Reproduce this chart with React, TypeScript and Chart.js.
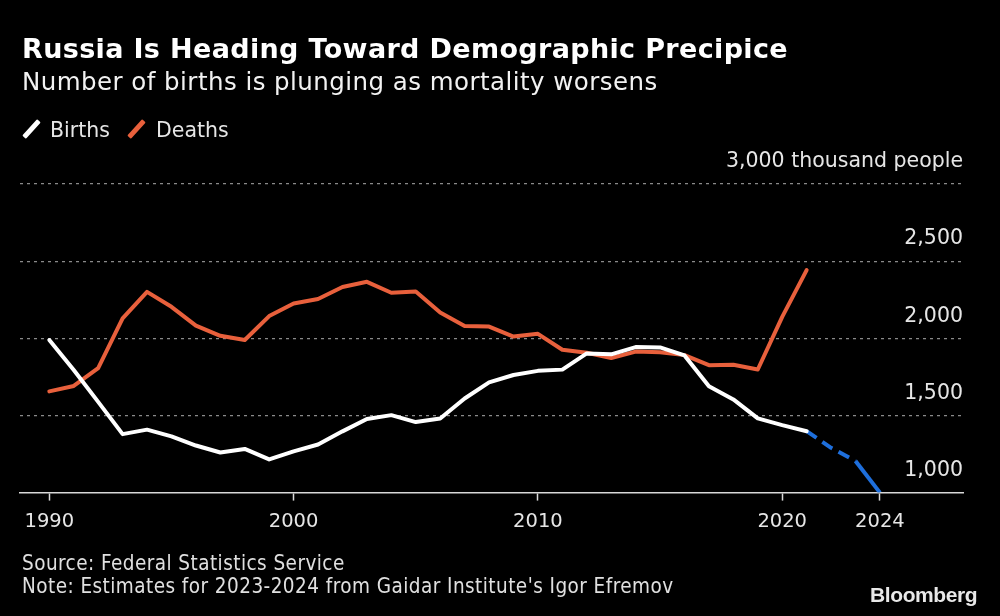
import React, { useEffect, useRef } from 'react';
import { Chart, registerables } from 'chart.js';

Chart.register(...registerables);

// Data (thousand people)
const years = [
  1990, 1991, 1992, 1993, 1994, 1995, 1996, 1997, 1998, 1999,
  2000, 2001, 2002, 2003, 2004, 2005, 2006, 2007, 2008, 2009,
  2010, 2011, 2012, 2013, 2014, 2015, 2016, 2017, 2018, 2019,
  2020, 2021,
];
const births = [
  1989, 1795, 1588, 1379, 1408, 1364, 1305, 1260, 1283, 1215,
  1267, 1312, 1397, 1477, 1502, 1457, 1480, 1610, 1714, 1762,
  1789, 1797, 1902, 1896, 1943, 1941, 1889, 1690, 1604, 1481,
  1437, 1398,
];
const deaths = [
  1656, 1691, 1807, 2129, 2301, 2204, 2082, 2016, 1989, 2144,
  2225, 2255, 2332, 2366, 2295, 2304, 2167, 2080, 2076, 2011,
  2029, 1926, 1906, 1872, 1914, 1909, 1891, 1826, 1829, 1798,
  2139, 2442,
];
const estimateYears = [2021, 2022, 2023, 2024];
const estimateBirths = [1398, 1290, 1205, 1000];

const xTickValues = [1990, 2000, 2010, 2020, 2024];
const yTickValues = [1000, 1500, 2000, 2500, 3000];
const yUnitLabel = '3,000 thousand people';

const WHITE = '#ffffff';
const ORANGE = '#e8603c';
const BLUE = '#1e6fdc';

export default function App() {
  const ref = useRef<HTMLCanvasElement>(null);

  useEffect(() => {
    document.body.style.margin = '0';
    document.body.style.background = '#000';
    const canvas = ref.current!;
    const chart = new Chart(canvas, {
      type: 'line',
      data: {
        datasets: [
          {
            label: 'Births',
            data: years.map((y, i) => ({ x: y, y: births[i] })),
            borderColor: WHITE,
            borderWidth: 4,
            pointRadius: 0,
            tension: 0,
            borderJoinStyle: 'round',
            borderCapStyle: 'round',
          },
          {
            label: 'Estimate',
            data: estimateYears.map((y, i) => ({ x: y, y: estimateBirths[i] })),
            borderColor: BLUE,
            borderWidth: 4,
            pointRadius: 0,
            tension: 0,
            borderJoinStyle: 'round',
            segment: {
              borderDash: (ctx: any) => (ctx.p1DataIndex <= 2 ? [12, 7] : []),
            },
          },
          {
            label: 'Deaths',
            data: years.map((y, i) => ({ x: y, y: deaths[i] })),
            borderColor: ORANGE,
            borderWidth: 4,
            pointRadius: 0,
            tension: 0,
            borderJoinStyle: 'round',
            borderCapStyle: 'round',
          },
        ],
      },
      options: {
        responsive: false,
        animation: false,
        devicePixelRatio: 1,
        layout: { padding: { left: 20, right: 37, top: 184, bottom: 72 } },
        plugins: { legend: { display: false }, tooltip: { enabled: false } },
        scales: {
          x: {
            type: 'linear',
            min: 1988.8,
            max: 2027.4,
            afterBuildTicks: (scale: any) => {
              scale.ticks = xTickValues.map((v) => ({ value: v }));
            },
            grid: {
              display: true,
              drawOnChartArea: false,
              drawTicks: true,
              tickLength: 8,
              tickColor: '#d8d8d8',
              tickWidth: 1.5,
            },
            border: { display: true, color: '#d8d8d8', width: 1.5 },
            ticks: {
              color: '#e6e6e6',
              font: { family: 'DejaVu Sans', size: 19.5 },
              padding: 10,
              maxRotation: 0,
              autoSkip: false,
              callback: (v: any) => String(v),
            },
          },
          y: {
            type: 'linear',
            position: 'right',
            min: 1000,
            max: 3000,
            afterBuildTicks: (scale: any) => {
              scale.ticks = yTickValues.map((v) => ({ value: v }));
            },
            grid: {
              drawTicks: false,
              color: (ctx: any) => (ctx.tick && ctx.tick.value === 1000 ? 'rgba(0,0,0,0)' : '#8a8a8a'),
              lineWidth: 1.2,
            },
            border: { display: false, dash: [3, 4] },
            ticks: {
              mirror: true,
              padding: 0,
              labelOffset: -22,
              color: '#e6e6e6',
              font: { family: 'DejaVu Sans', size: 20.5 },
              callback: (v: any) => (v === 3000 ? yUnitLabel : Number(v).toLocaleString('en-US')),
            },
          },
        },
      },
    });
    return () => chart.destroy();
  }, []);

  const legendIcon = (color: string, cx: number) => (
    <span
      style={{
        position: 'absolute',
        left: cx - 2.5,
        top: 129 - 11,
        width: 5,
        height: 22,
        background: color,
        transform: 'rotate(42deg)',
        borderRadius: 1,
      }}
    />
  );

  const legendText: React.CSSProperties = {
    position: 'absolute',
    top: 118,
    fontSize: 20.5,
    lineHeight: '24px',
    color: '#e6e6e6',
    whiteSpace: 'nowrap',
  };

  return (
    <div style={{ position: 'relative', width: 1000, height: 616, background: '#000', overflow: 'hidden', fontFamily: 'DejaVu Sans' }}>
      <canvas ref={ref} width={1000} height={616} style={{ position: 'absolute', left: 0, top: 0, width: 1000, height: 616 }} />
      <div style={{ position: 'absolute', left: 22, top: 35, fontSize: 27, lineHeight: '27px', fontWeight: 'bold', color: '#fff', letterSpacing: '0.35px', whiteSpace: 'nowrap' }}>
        Russia Is Heading Toward Demographic Precipice
      </div>
      <div style={{ position: 'absolute', left: 22, top: 70, fontSize: 24.5, lineHeight: '24.5px', color: '#f2f2f2', letterSpacing: '0.45px', whiteSpace: 'nowrap' }}>
        Number of births is plunging as mortality worsens
      </div>
      {legendIcon(WHITE, 31)}
      <span style={{ ...legendText, left: 50 }}>Births</span>
      {legendIcon(ORANGE, 136)}
      <span style={{ ...legendText, left: 156 }}>Deaths</span>
      <div style={{ position: 'absolute', left: 22, top: 552, fontSize: 20.5, lineHeight: '23px', color: '#e0e0e0', fontFamily: 'DejaVu Sans Condensed', letterSpacing: '0.45px', whiteSpace: 'nowrap' }}>
        <div>Source: Federal Statistics Service</div>
        <div>Note: Estimates for 2023-2024 from Gaidar Institute's Igor Efremov</div>
      </div>
      <div style={{ position: 'absolute', left: 870, top: 583, fontSize: 21, lineHeight: '24px', fontWeight: 'bold', color: '#e8e8e8', fontFamily: 'Liberation Sans', letterSpacing: '-0.4px', whiteSpace: 'nowrap' }}>
        Bloomberg
      </div>
    </div>
  );
}
